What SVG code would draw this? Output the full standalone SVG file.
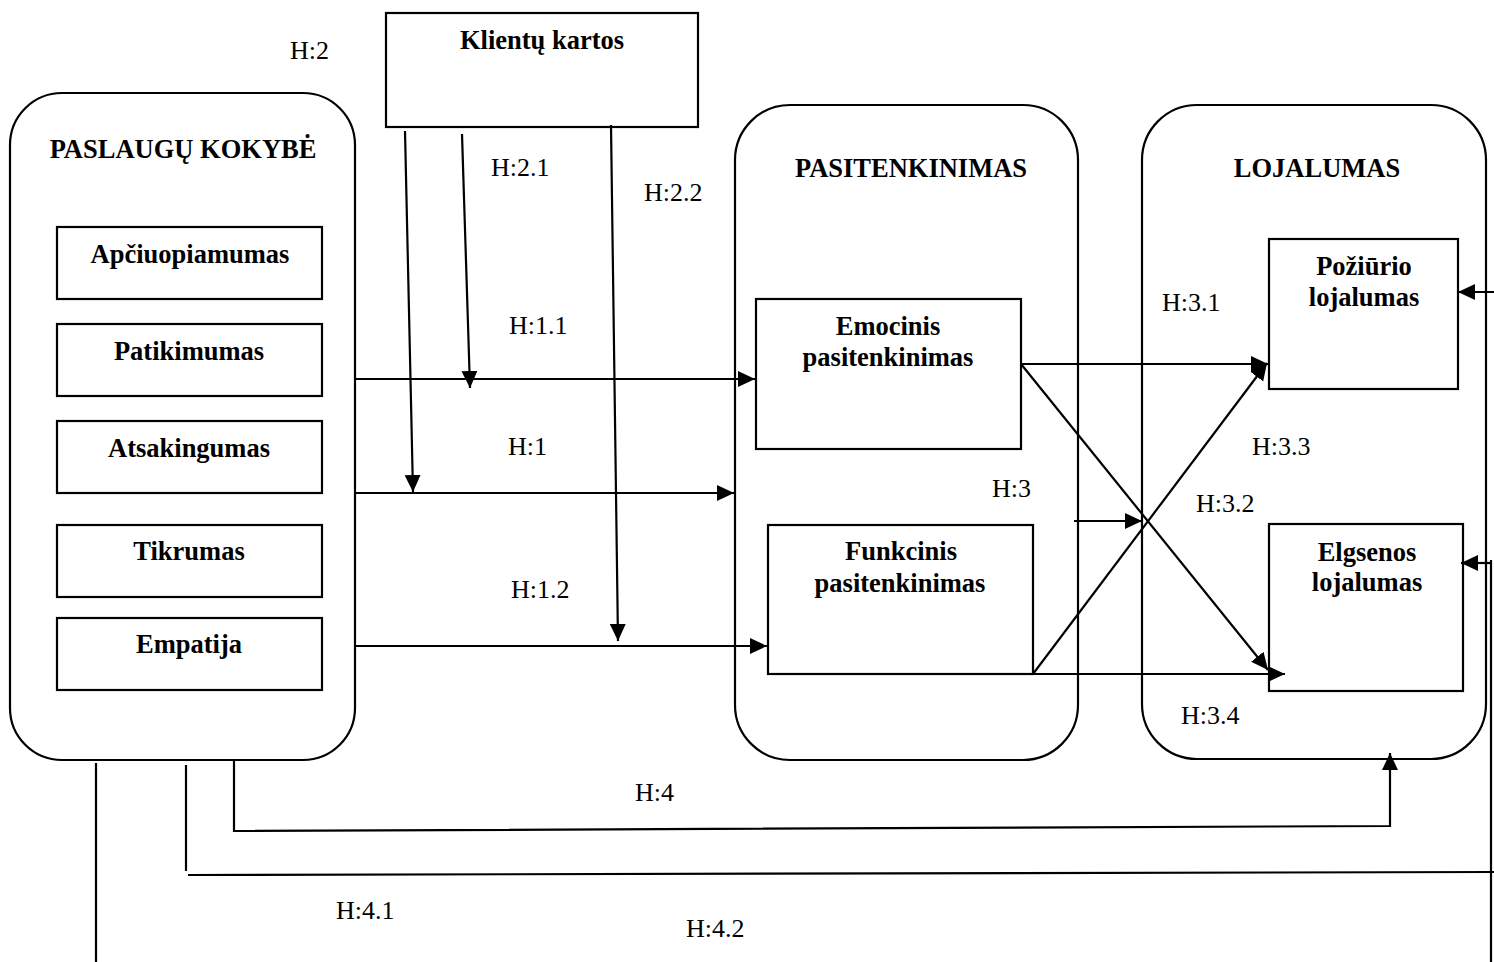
<svg xmlns="http://www.w3.org/2000/svg" width="1494" height="962" viewBox="0 0 1494 962">
  <defs>
    <marker id="arrow" markerUnits="userSpaceOnUse" markerWidth="19" markerHeight="17" refX="17" refY="8" orient="auto">
      <path d="M0,0 L17,8 L0,16 Z" fill="#000"/>
    </marker>
    <style>
      .frame { fill: #fff; stroke: #000; stroke-width: 2.2; }
      .box { fill: #fff; stroke: #000; stroke-width: 2.2; }
      .title { font-family: "Liberation Serif", "Times New Roman", serif; font-weight: bold; font-size: 26.5px; text-anchor: middle; fill: #000; }
      .lbl { font-family: "Liberation Serif", "Times New Roman", serif; font-size: 26px; fill: #000; }
      .link { fill: none; stroke: #000; stroke-width: 2.2; }
      .arr { fill: none; stroke: #000; stroke-width: 2.2; marker-end: url(#arrow); }
    </style>
  </defs>
  <rect width="1494" height="962" fill="#fff"/>

  <!-- Service quality group -->
  <g id="paslaugu-kokybe">
    <rect class="frame" x="10" y="93" width="345" height="667" rx="52" ry="52"/>
    <text class="title" x="183" y="158">PASLAUGŲ KOKYBĖ</text>
  </g>
  <g id="apciuopiamumas">
    <rect class="box" x="57" y="227" width="265" height="72"/>
    <text class="title" x="190" y="263">Apčiuopiamumas</text>
  </g>
  <g id="patikimumas">
    <rect class="box" x="57" y="324" width="265" height="72"/>
    <text class="title" x="189" y="360">Patikimumas</text>
  </g>
  <g id="atsakingumas">
    <rect class="box" x="57" y="421" width="265" height="72"/>
    <text class="title" x="189" y="457">Atsakingumas</text>
  </g>
  <g id="tikrumas">
    <rect class="box" x="57" y="525" width="265" height="72"/>
    <text class="title" x="189" y="560">Tikrumas</text>
  </g>
  <g id="empatija">
    <rect class="box" x="57" y="618" width="265" height="72"/>
    <text class="title" x="189" y="653">Empatija</text>
  </g>

  <!-- Customer generations -->
  <g id="klientu-kartos">
    <rect class="box" x="386" y="13" width="312" height="114"/>
    <text class="title" x="542" y="49">Klientų kartos</text>
  </g>

  <!-- Satisfaction group -->
  <g id="pasitenkinimas">
    <rect class="frame" x="735" y="105" width="343" height="655" rx="55" ry="55"/>
    <text class="title" x="911" y="177">PASITENKINIMAS</text>
  </g>
  <g id="emocinis">
    <rect class="box" x="756" y="299" width="265" height="150"/>
    <text class="title" x="888" y="335">Emocinis</text>
    <text class="title" x="888" y="366">pasitenkinimas</text>
  </g>
  <g id="funkcinis">
    <rect class="box" x="768" y="525" width="265" height="149"/>
    <text class="title" x="901" y="560">Funkcinis</text>
    <text class="title" x="900" y="592">pasitenkinimas</text>
  </g>

  <!-- Loyalty group -->
  <g id="lojalumas">
    <rect class="frame" x="1142" y="105" width="344" height="654" rx="55" ry="55"/>
    <text class="title" x="1317" y="177">LOJALUMAS</text>
  </g>
  <g id="poziurio">
    <rect class="box" x="1269" y="239" width="189" height="150"/>
    <text class="title" x="1364" y="275">Požiūrio</text>
    <text class="title" x="1364" y="306">lojalumas</text>
  </g>
  <g id="elgsenos">
    <rect class="box" x="1269" y="524" width="194" height="167"/>
    <text class="title" x="1367" y="561">Elgsenos</text>
    <text class="title" x="1367" y="591">lojalumas</text>
  </g>

  <!-- Connectors -->
  <g id="connectors">
    <!-- quality to satisfaction -->
    <line class="arr" x1="355" y1="379" x2="755" y2="379"/>
    <line class="arr" x1="355" y1="493" x2="734" y2="493"/>
    <line class="arr" x1="355" y1="646" x2="767" y2="646"/>
    <!-- moderating effects of customer generations -->
    <line class="arr" x1="405" y1="131" x2="413" y2="492"/>
    <line class="arr" x1="462" y1="134" x2="470" y2="388"/>
    <line class="arr" x1="611" y1="125" x2="618" y2="641"/>
    <!-- satisfaction to loyalty -->
    <line class="arr" x1="1021" y1="364" x2="1268" y2="364"/>
    <line class="arr" x1="1021" y1="364" x2="1268" y2="670"/>
    <line class="arr" x1="1033" y1="674" x2="1267" y2="363"/>
    <line class="arr" x1="1033" y1="674" x2="1285" y2="674"/>
    <line class="arr" x1="1074" y1="521" x2="1142" y2="521"/>
    <!-- quality to loyalty -->
    <polyline class="arr" points="234,760 234,831 1390,826 1390,753"/>
    <line class="link" x1="186" y1="765" x2="186" y2="871"/>
    <line class="link" x1="188" y1="875" x2="1494" y2="872"/>
    <line class="link" x1="1491" y1="560" x2="1491" y2="962"/>
    <line class="arr" x1="1491" y1="563" x2="1461" y2="563"/>
    <line class="arr" x1="1494" y1="292" x2="1458" y2="292"/>
    <line class="link" x1="96" y1="763" x2="96" y2="962"/>
  </g>

  <!-- Hypothesis labels -->
  <g id="labels">
    <text class="lbl" x="290" y="59">H:2</text>
    <text class="lbl" x="491" y="176">H:2.1</text>
    <text class="lbl" x="644" y="201">H:2.2</text>
    <text class="lbl" x="509" y="334">H:1.1</text>
    <text class="lbl" x="508" y="455">H:1</text>
    <text class="lbl" x="511" y="598">H:1.2</text>
    <text class="lbl" x="992" y="497">H:3</text>
    <text class="lbl" x="1162" y="311">H:3.1</text>
    <text class="lbl" x="1252" y="455">H:3.3</text>
    <text class="lbl" x="1196" y="512">H:3.2</text>
    <text class="lbl" x="1181" y="724">H:3.4</text>
    <text class="lbl" x="635" y="801">H:4</text>
    <text class="lbl" x="336" y="919">H:4.1</text>
    <text class="lbl" x="686" y="937">H:4.2</text>
  </g>
</svg>
